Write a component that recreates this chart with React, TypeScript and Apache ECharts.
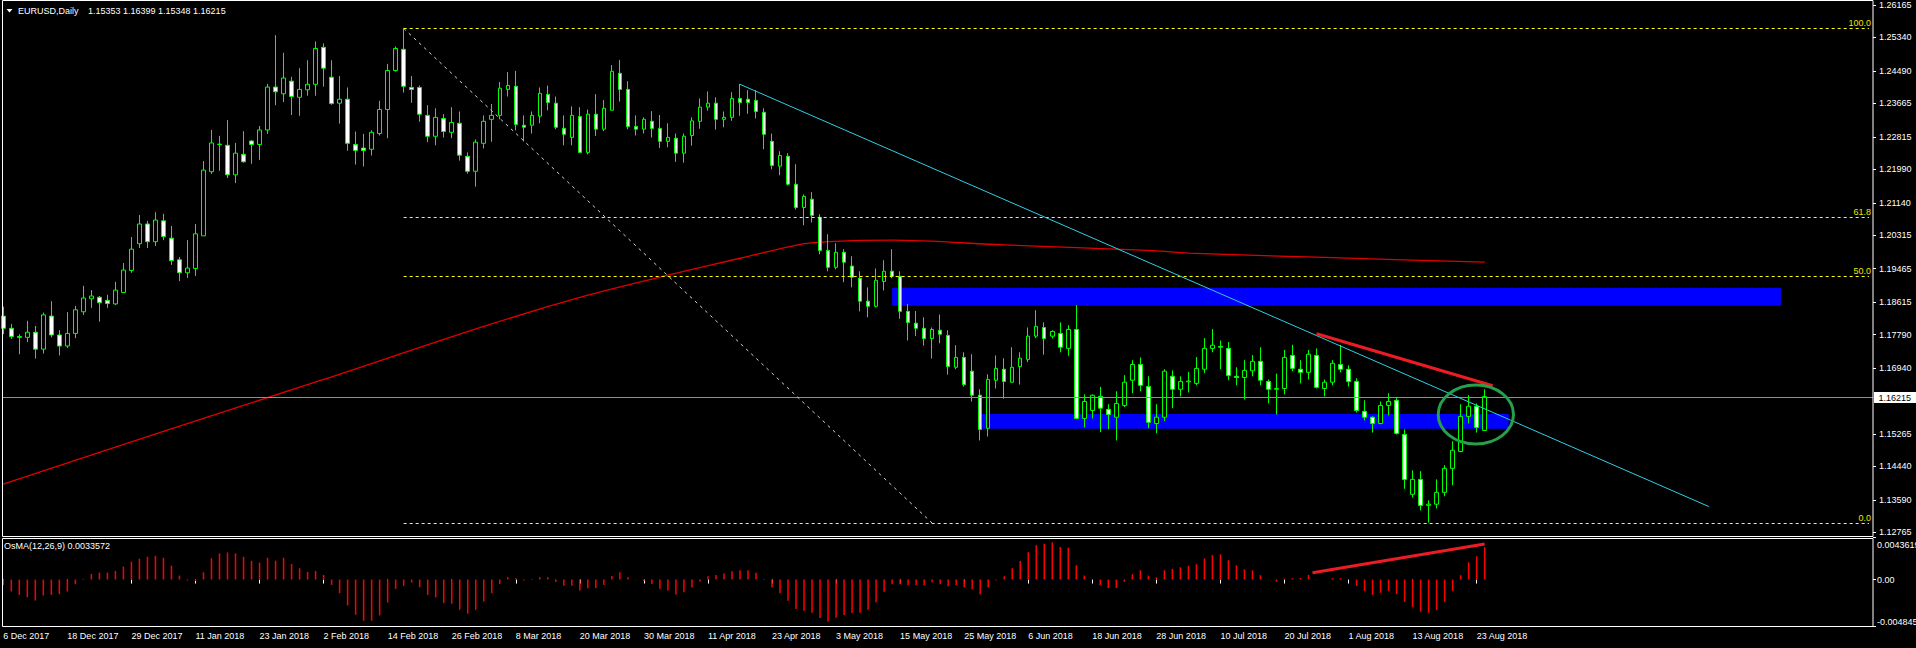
import React, { useEffect, useRef } from 'react';
import * as echarts from 'echarts';

// ---------- DATA ----------
const OPEN = [
  1.1826, 1.1795, 1.1774, 1.1772, 1.1785, 1.1742, 1.1826, 1.1778, 1.1750, 1.1782,
  1.1837, 1.1870, 1.1874, 1.1866, 1.1857, 1.1886, 1.1942, 1.2010, 1.2060, 1.2015,
  1.2068, 1.2024, 1.1969, 1.1936, 1.1947, 1.2030, 1.2193, 1.2262, 1.2260, 1.2185,
  1.2237, 1.2271, 1.2262, 1.2299, 1.2408, 1.2391, 1.2423, 1.2382, 1.2401, 1.2415,
  1.2509, 1.2433, 1.2367, 1.2377, 1.2262, 1.2253, 1.2250, 1.2290, 1.2351, 1.2450,
  1.2504, 1.2407, 1.2407, 1.2336, 1.2283, 1.2328, 1.2293, 1.2316, 1.2232, 1.2194,
  1.2265, 1.2326, 1.2336, 1.2402, 1.2410, 1.2311, 1.2311, 1.2334, 1.2389, 1.2367,
  1.2303, 1.2280, 1.2333, 1.2242, 1.2339, 1.2301, 1.2349, 1.2443, 1.2402, 1.2308,
  1.2301, 1.2321, 1.2303, 1.2270, 1.2278, 1.2240, 1.2285, 1.2321, 1.2357, 1.2367,
  1.2326, 1.2331, 1.2379, 1.2377, 1.2374, 1.2344, 1.2270, 1.2207, 1.2232, 1.2161,
  1.2102, 1.2123, 1.2077, 1.1993, 1.1950, 1.1988, 1.1953, 1.1922, 1.1864, 1.1851,
  1.1914, 1.1940, 1.1927, 1.1838, 1.1808, 1.1795, 1.1769, 1.1790, 1.1777, 1.1696,
  1.1721, 1.1686, 1.1625, 1.1541, 1.1663, 1.1691, 1.1658, 1.1698, 1.1716, 1.1775,
  1.1797, 1.1775, 1.1782, 1.1744, 1.1792, 1.1566, 1.1586, 1.1622, 1.1589, 1.1569,
  1.1599, 1.1663, 1.1703, 1.1647, 1.1553, 1.1569, 1.1673, 1.1640, 1.1659, 1.1655,
  1.1691, 1.1744, 1.1749, 1.1744, 1.1673, 1.1670, 1.1687, 1.1711, 1.1660, 1.1640,
  1.1642, 1.1726, 1.1691, 1.1683, 1.1726, 1.1642, 1.1658, 1.1703, 1.1691, 1.1660,
  1.1584, 1.1569, 1.1553, 1.1599, 1.1612, 1.1525, 1.1373, 1.1411, 1.1345, 1.1348,
  1.1378, 1.1439, 1.1482, 1.1571, 1.1597, 1.15353,
];
const HIGH = [
  1.1850, 1.1806, 1.1780, 1.1814, 1.1801, 1.1835, 1.1864, 1.1790, 1.1836, 1.1852,
  1.1903, 1.1892, 1.1877, 1.1880, 1.1913, 1.1961, 1.2027, 1.2083, 1.2068, 1.2090,
  1.2086, 1.2055, 1.1976, 1.2019, 1.2060, 1.2220, 1.2299, 1.2284, 1.2324, 1.2266,
  1.2296, 1.2273, 1.2309, 1.2416, 1.2540, 1.2495, 1.2434, 1.2456, 1.2476, 1.2524,
  1.2519, 1.2476, 1.2436, 1.2407, 1.2295, 1.2289, 1.2298, 1.2373, 1.2467, 1.2511,
  1.2557, 1.2436, 1.2412, 1.2362, 1.2354, 1.2339, 1.2357, 1.2346, 1.2242, 1.2275,
  1.2336, 1.2365, 1.2421, 1.2446, 1.2449, 1.2336, 1.2346, 1.2407, 1.2412, 1.2384,
  1.2336, 1.2359, 1.2357, 1.2351, 1.2390, 1.2375, 1.2464, 1.2477, 1.2423, 1.2336,
  1.2331, 1.2347, 1.2337, 1.2316, 1.2290, 1.2290, 1.2331, 1.2379, 1.2397, 1.2382,
  1.2346, 1.2395, 1.2416, 1.2400, 1.2400, 1.2354, 1.2290, 1.2245, 1.2240, 1.2212,
  1.2135, 1.2141, 1.2085, 1.2034, 1.2011, 1.1996, 1.1978, 1.1940, 1.1899, 1.1947,
  1.1968, 1.1996, 1.1940, 1.1857, 1.1839, 1.1823, 1.1797, 1.1830, 1.1790, 1.1752,
  1.1734, 1.1729, 1.1640, 1.1678, 1.1726, 1.1719, 1.1747, 1.1734, 1.1797, 1.1841,
  1.1810, 1.1790, 1.1810, 1.1803, 1.1854, 1.1627, 1.1627, 1.1646, 1.1602, 1.1635,
  1.1676, 1.1714, 1.1721, 1.1673, 1.1602, 1.1691, 1.1688, 1.1673, 1.1684, 1.1722,
  1.1770, 1.1793, 1.1764, 1.1760, 1.1696, 1.1714, 1.1727, 1.1747, 1.1665, 1.1680,
  1.1740, 1.1753, 1.1714, 1.1740, 1.1744, 1.1665, 1.1714, 1.1753, 1.1701, 1.1668,
  1.1612, 1.1571, 1.1609, 1.1630, 1.1620, 1.1538, 1.1434, 1.1432, 1.1358, 1.1411,
  1.1447, 1.1508, 1.1602, 1.1625, 1.1604, 1.16399,
];
const LOW = [
  1.1780, 1.1768, 1.1729, 1.1760, 1.1718, 1.1731, 1.1772, 1.1726, 1.1745, 1.1770,
  1.1829, 1.1847, 1.1812, 1.1847, 1.1854, 1.1886, 1.1936, 1.1999, 1.1999, 1.2004,
  1.2019, 1.1956, 1.1915, 1.1923, 1.1928, 1.2030, 1.2187, 1.2195, 1.2177, 1.2164,
  1.2216, 1.2213, 1.2223, 1.2289, 1.2362, 1.2370, 1.2337, 1.2335, 1.2386, 1.2386,
  1.2409, 1.2363, 1.2315, 1.2246, 1.2211, 1.2206, 1.2234, 1.2285, 1.2278, 1.2447,
  1.2394, 1.2368, 1.2320, 1.2268, 1.2260, 1.2280, 1.2278, 1.2221, 1.2188, 1.2155,
  1.2252, 1.2269, 1.2326, 1.2384, 1.2298, 1.2270, 1.2290, 1.2316, 1.2349, 1.2301,
  1.2260, 1.2260, 1.2240, 1.2237, 1.2284, 1.2296, 1.2349, 1.2371, 1.2301, 1.2285,
  1.2290, 1.2280, 1.2253, 1.2255, 1.2218, 1.2216, 1.2259, 1.2302, 1.2348, 1.2300,
  1.2306, 1.2322, 1.2335, 1.2340, 1.2328, 1.2250, 1.2199, 1.2184, 1.2158, 1.2097,
  1.2057, 1.2064, 1.1983, 1.1940, 1.1945, 1.1912, 1.1899, 1.1838, 1.1823, 1.1848,
  1.1891, 1.1922, 1.1819, 1.1764, 1.1775, 1.1751, 1.1718, 1.1757, 1.1677, 1.1691,
  1.1647, 1.1609, 1.1510, 1.1520, 1.1642, 1.1616, 1.1656, 1.1652, 1.1709, 1.1770,
  1.1728, 1.1769, 1.1734, 1.1725, 1.1564, 1.1543, 1.1566, 1.1531, 1.1538, 1.1510,
  1.1595, 1.1630, 1.1635, 1.1541, 1.1528, 1.1559, 1.1592, 1.1622, 1.1632, 1.1650,
  1.1681, 1.1734, 1.1691, 1.1663, 1.1650, 1.1614, 1.1673, 1.1650, 1.1604, 1.1576,
  1.1627, 1.1686, 1.1655, 1.1665, 1.1642, 1.1622, 1.1650, 1.1683, 1.1647, 1.1581,
  1.1561, 1.1530, 1.1551, 1.1574, 1.1525, 1.1387, 1.1365, 1.1332, 1.1301, 1.1337,
  1.1368, 1.1396, 1.1480, 1.1553, 1.1530, 1.15348,
];
const CLOSE = [
  1.1795, 1.1774, 1.1772, 1.1785, 1.1742, 1.1829, 1.1778, 1.1750, 1.1782, 1.1842,
  1.1872, 1.1877, 1.1860, 1.1858, 1.1892, 1.1943, 1.1996, 1.2060, 1.2015, 1.2070,
  1.2028, 1.1967, 1.1936, 1.1948, 1.2035, 1.2197, 1.2266, 1.2263, 1.2185, 1.2240,
  1.2218, 1.2262, 1.2299, 1.2408, 1.2396, 1.2431, 1.2384, 1.2402, 1.2415, 1.2506,
  1.2456, 1.2366, 1.2377, 1.2265, 1.2247, 1.2247, 1.2293, 1.2351, 1.2450, 1.2506,
  1.2410, 1.2402, 1.2339, 1.2283, 1.2331, 1.2295, 1.2318, 1.2235, 1.2194, 1.2268,
  1.2321, 1.2336, 1.2405, 1.2412, 1.2313, 1.2306, 1.2336, 1.2392, 1.2369, 1.2306,
  1.2288, 1.2336, 1.2242, 1.2339, 1.2301, 1.2354, 1.2448, 1.2402, 1.2308, 1.2301,
  1.2326, 1.2303, 1.2270, 1.2280, 1.2240, 1.2283, 1.2322, 1.2357, 1.2367, 1.2326,
  1.2331, 1.2379, 1.2369, 1.2369, 1.2346, 1.2288, 1.2209, 1.2234, 1.2161, 1.2102,
  1.2130, 1.2082, 1.1993, 1.1950, 1.1988, 1.1963, 1.1925, 1.1864, 1.1851, 1.1917,
  1.1940, 1.1927, 1.1838, 1.1810, 1.1795, 1.1769, 1.1792, 1.1780, 1.1698, 1.1721,
  1.1652, 1.1625, 1.1538, 1.1665, 1.1693, 1.1660, 1.1696, 1.1719, 1.1775, 1.1800,
  1.1769, 1.1787, 1.1747, 1.1792, 1.1566, 1.1609, 1.1625, 1.1592, 1.1576, 1.1604,
  1.1658, 1.1703, 1.1650, 1.1556, 1.1569, 1.1686, 1.1640, 1.1660, 1.1661, 1.1693,
  1.1744, 1.1752, 1.1747, 1.1675, 1.1670, 1.1688, 1.1711, 1.1663, 1.1640, 1.1642,
  1.1721, 1.1693, 1.1683, 1.1729, 1.1645, 1.1658, 1.1706, 1.1691, 1.1660, 1.1586,
  1.1569, 1.1553, 1.1599, 1.1609, 1.1528, 1.1411, 1.1411, 1.1345, 1.1348, 1.1378,
  1.1439, 1.1485, 1.1571, 1.1597, 1.1543, 1.16215,
];
const OSMA = [
  -0.00055, -0.00123, -0.00158, -0.00182, -0.00216, -0.00165, -0.00158, -0.00151, -0.00123, -0.00048,
  0.00007, 0.00058, 0.00072, 0.00072, 0.00089, 0.00134, 0.00185, 0.00215, 0.00235, 0.00245,
  0.00225, 0.00144, 0.00041, -0.00010, -0.00015, 0.00075, 0.00220, 0.00270, 0.00280, 0.00270,
  0.00235, 0.00192, 0.00175, 0.00225, 0.00195, 0.00225, 0.00161, 0.00117, 0.00079, 0.00089,
  0.00048, -0.00055, -0.00141, -0.00267, -0.00363, -0.00425, -0.00425, -0.00370, -0.00237, -0.00096,
  -0.00065, -0.00031, -0.00079, -0.00158, -0.00185, -0.00243, -0.00250, -0.00312, -0.00353, -0.00312,
  -0.00226, -0.00141, -0.00045, 0.00024, 0.00014, -0.00010, 0.00007, 0.00024, 0.00024, -0.00024,
  -0.00065, -0.00065, -0.00113, -0.00089, -0.00086, -0.00055, 0.00038, 0.00075, 0.00024, 0.00002,
  -0.00014, -0.00045, -0.00096, -0.00113, -0.00154, -0.00130, -0.00082, -0.00020, 0.00034, 0.00048,
  0.00062, 0.00086, 0.00096, 0.00096, 0.00069, 0.00007, -0.00082, -0.00141, -0.00219, -0.00305,
  -0.00322, -0.00343, -0.00398, -0.00435, -0.00394, -0.00367, -0.00346, -0.00343, -0.00312, -0.00233,
  -0.00127, -0.00048, -0.00048, -0.00058, -0.00058, -0.00058, -0.00027, -0.00048, -0.00069, -0.00058,
  -0.00082, -0.00099, -0.00151, -0.00082, -0.00007, 0.00034, 0.00117, 0.00192, 0.00281, 0.00353,
  0.00370, 0.00384, 0.00336, 0.00329, 0.00147, 0.00041, 0.00002, -0.00058, -0.00089, -0.00086,
  -0.00024, 0.00055, 0.00096, 0.00041, 0.00024, 0.00096, 0.00110, 0.00127, 0.00141, 0.00158,
  0.00219, 0.00254, 0.00261, 0.00199, 0.00147, 0.00106, 0.00096, 0.00045, 0.00002, -0.00024,
  0.00010, 0.00014, 0.00017, 0.00048, 0.00003, 0.00001, 0.00014, 0.00014, 0.00001, -0.00065,
  -0.00117, -0.00158, -0.00137, -0.00117, -0.00151, -0.00230, -0.00281, -0.00333, -0.00343, -0.00315,
  -0.00230, -0.00117, 0.00045, 0.00178, 0.00240, 0.0033572,
];
// moving average (red line), read at these bar indexes
const MA_IDX = [0, 20, 40, 60, 73, 83, 92, 100, 103, 106, 111, 125, 143, 148, 165, 185];
const MA_VAL = [1.1399, 1.1533, 1.1665, 1.1800, 1.1879, 1.1930, 1.1973, 1.2010, 1.2015, 1.2018, 1.2019, 1.2007, 1.1993, 1.1986, 1.1975, 1.1963];

const PRICE_TICKS = [1.26165, 1.2534, 1.2449, 1.23665, 1.22815, 1.2199, 1.2114, 1.20315, 1.19465, 1.18615, 1.1779, 1.1694, 1.15265, 1.1444, 1.1359, 1.12765];
const PRICE_AXIS_MAX = 1.26267;
const PRICE_AXIS_MIN = 1.12672;
const OSMA_MAX = 0.0043619;
const OSMA_MIN = -0.0048454;
const OSMA_TICKS = [OSMA_MAX, 0, OSMA_MIN];
const LAST_PRICE = 1.16215;

const FIB_LEVELS = [100, 61.8, 50, 0];
const FIB_HIGH = 1.2557;
const FIB_LOW = 1.13;
const FIB_START = 50;
const FIB_DIAG_END = 116;
const FIB_END = 233;

const CYAN_LINE = [[92, 1.2415], [213, 1.1342]];
const RED_LINE = [[164, 1.1781], [186, 1.1649]];
const RED_OSMA_LINE = [[163.5, 0.00071], [185, 0.00367]];
const BLUE_ZONES = [
  [111, 222, 1.18981, 1.18524],
  [122, 188, 1.15772, 1.15398],
];
const ELLIPSE = { i: 183.9, price: 1.1576, rBars: 4.7, rPrice: 0.0075 };

const HOLIDAYS = ['2017-12-25', '2018-01-01'];
const MONTHS = ['Jan', 'Feb', 'Mar', 'Apr', 'May', 'Jun', 'Jul', 'Aug', 'Sep', 'Oct', 'Nov', 'Dec'];
const N_CATEGORIES = 234;

const FONT = '"Liberation Sans", Arial, sans-serif';

function tradingDays(startIso: string, count: number): string[] {
  const out: string[] = [];
  const d = new Date(startIso + 'T00:00:00Z');
  while (out.length < count) {
    const dow = d.getUTCDay();
    const iso = d.toISOString().slice(0, 10);
    if (dow !== 0 && dow !== 6 && HOLIDAYS.indexOf(iso) < 0) {
      out.push(`${d.getUTCDate()} ${MONTHS[d.getUTCMonth()]} ${d.getUTCFullYear()}`);
    }
    d.setUTCDate(d.getUTCDate() + 1);
  }
  return out;
}

export default function App() {
  const ref = useRef<HTMLDivElement>(null);

  useEffect(() => {
    document.body.style.margin = '0';
    document.body.style.background = '#000';
    if (!ref.current) return;
    const chart = echarts.init(ref.current, null, { renderer: 'svg' });

    const n = OPEN.length;
    const dates = tradingDays('2017-12-06', n);
    const cats: string[] = [...dates];
    for (let i = n; i < N_CATEGORIES; i++) cats.push('x' + i);

    const candles = OPEN.map((o, i) => [o, CLOSE[i], LOW[i], HIGH[i]]);
    const ma: (number | null)[] = new Array(n).fill(null);
    MA_IDX.forEach((idx, k) => { ma[idx] = MA_VAL[k]; });

    const showLabel = (idx: number) => idx % 8 === 0 && idx < n;

    chart.setOption({
      animation: false,
      backgroundColor: '#000000',
      textStyle: { fontFamily: FONT },
      grid: [
        { left: -0.7, right: 43, top: 1, height: 535, containLabel: false, outerBoundsMode: 'none' },
        { left: -0.7, right: 43, top: 537.3, height: 89.2, containLabel: false, outerBoundsMode: 'none' },
      ],
      xAxis: [
        { type: 'category', gridIndex: 0, data: cats, axisLine: { show: false }, axisTick: { show: false }, axisLabel: { show: false }, splitLine: { show: false } },
        {
          type: 'category', gridIndex: 1, data: cats,
          axisLine: { show: false },
          axisTick: { show: true, alignWithLabel: true, interval: (idx: number) => showLabel(idx), length: 4, lineStyle: { color: '#ffffff' } },
          axisLabel: { interval: (idx: number) => showLabel(idx), color: '#ffffff', fontSize: 9, fontFamily: FONT, align: 'left', margin: 5 },
          splitLine: { show: false },
        },
      ],
      yAxis: [
        {
          type: 'value', gridIndex: 0, position: 'right', min: PRICE_AXIS_MIN, max: PRICE_AXIS_MAX,
          axisLine: { show: false }, splitLine: { show: false },
          axisTick: { show: true, customValues: PRICE_TICKS, length: 3, lineStyle: { color: '#ffffff' } },
          axisLabel: { customValues: PRICE_TICKS, formatter: (v: number) => v.toFixed(5), color: '#ffffff', fontSize: 9, fontFamily: FONT, margin: 6 },
        },
        {
          type: 'value', gridIndex: 1, position: 'right', min: OSMA_MIN, max: OSMA_MAX,
          axisLine: { show: false }, splitLine: { show: false },
          axisTick: { show: true, customValues: OSMA_TICKS, length: 3, lineStyle: { color: '#ffffff' } },
          axisLabel: {
            customValues: OSMA_TICKS,
            formatter: (v: number) => (v === 0 ? '0.00' : v < 0 ? `{lo|${v.toFixed(7)}}` : `{hi|${v.toFixed(7)}}`),
            rich: {
              lo: { padding: [0, 0, 10, 0], color: '#ffffff', fontSize: 9, fontFamily: FONT },
              hi: { padding: [15, 0, 0, 0], color: '#ffffff', fontSize: 9, fontFamily: FONT },
            },
            color: '#ffffff', fontSize: 9, fontFamily: FONT, margin: 4,
          },
        },
      ],
      series: [
        {
          type: 'line', xAxisIndex: 0, yAxisIndex: 0, data: ma, connectNulls: true, smooth: 0.3,
          symbol: 'none', showSymbol: false, silent: true, z: 1,
          lineStyle: { color: '#e00000', width: 1.3 },
          markArea: {
            silent: true, label: { show: false },
            itemStyle: { color: '#0000ff', opacity: 1 },
            data: BLUE_ZONES.map(([a, b, top, bot]) => [{ coord: [a, top] }, { coord: [b, bot] }]),
          },
        },
        {
          type: 'candlestick', xAxisIndex: 0, yAxisIndex: 0, data: candles, barWidth: 4, z: 3, silent: true,
          itemStyle: { color: '#000000', color0: '#ffffff', borderColor: '#00ff00', borderColor0: '#00ff00', borderWidth: 1 },
        },
        {
          type: 'bar', xAxisIndex: 1, yAxisIndex: 1, data: OSMA, barWidth: 1.5, silent: true,
          itemStyle: { color: '#ff0000' },
        },
      ],
    });

    const x0 = chart.convertToPixel({ xAxisIndex: 0 }, 0) as number;
    const bw = (chart.convertToPixel({ xAxisIndex: 0 }, 1) as number) - x0;
    const X = (i: number) => x0 + i * bw;
    const Y = (v: number) => chart.convertToPixel({ yAxisIndex: 0 }, v) as number;
    const YO = (v: number) => chart.convertToPixel({ yAxisIndex: 1 }, v) as number;

    const elements: any[] = [];
    // frames
    elements.push({ type: 'rect', z: 20, silent: true, shape: { x: 2.5, y: 0.5, width: 1870.5, height: 536 }, style: { fill: 'none', stroke: '#ffffff', lineWidth: 1 } });
    elements.push({ type: 'rect', z: 20, silent: true, shape: { x: 2.5, y: 538.5, width: 1870.5, height: 88 }, style: { fill: 'none', stroke: '#ffffff', lineWidth: 1 } });

    // last price line
    const yl = Math.round(Y(LAST_PRICE)) + 0.5;
    elements.push({ type: 'line', z: 4, silent: true, shape: { x1: 2, y1: yl, x2: 1873, y2: yl }, style: { stroke: '#8293a4', lineWidth: 1 } });
    elements.push({ type: 'rect', z: 21, silent: true, shape: { x: 1874, y: yl - 5.5, width: 44, height: 11 }, style: { fill: '#ffffff' } });
    elements.push({ type: 'text', z: 22, silent: true, x: 1878.5, y: yl, style: { text: LAST_PRICE.toFixed(5), fill: '#000000', fontSize: 9, fontFamily: FONT, align: 'left', verticalAlign: 'middle' } });

    // fibonacci
    FIB_LEVELS.forEach((lvl) => {
      const p = FIB_LOW + ((FIB_HIGH - FIB_LOW) * lvl) / 100;
      const y = Math.round(Y(p)) + 0.5;
      elements.push({ type: 'line', z: 10, silent: true, shape: { x1: X(FIB_START), y1: y, x2: X(FIB_END), y2: y }, style: { stroke: '#ffff00', lineWidth: 1, lineDash: [3, 3] } });
      elements.push({ type: 'text', z: 10, silent: true, x: X(FIB_END) + 2, y: y - 6, style: { text: lvl.toFixed(1), fill: '#e6e600', fontSize: 9, fontFamily: FONT, align: 'right', verticalAlign: 'middle' } });
    });
    elements.push({ type: 'line', z: 10, silent: true, shape: { x1: X(FIB_START), y1: Y(FIB_HIGH), x2: X(FIB_DIAG_END), y2: Y(FIB_LOW) }, style: { stroke: '#d4d4d4', lineWidth: 1, lineDash: [3, 4] } });

    // trend lines
    elements.push({ type: 'line', z: 10, silent: true, shape: { x1: X(CYAN_LINE[0][0]), y1: Y(CYAN_LINE[0][1]), x2: X(CYAN_LINE[1][0]), y2: Y(CYAN_LINE[1][1]) }, style: { stroke: '#2ed0e4', lineWidth: 1 } });
    elements.push({ type: 'line', z: 11, silent: true, shape: { x1: X(RED_LINE[0][0]), y1: Y(RED_LINE[0][1]), x2: X(RED_LINE[1][0]), y2: Y(RED_LINE[1][1]) }, style: { stroke: '#ec1c24', lineWidth: 3 } });
    elements.push({ type: 'line', z: 11, silent: true, shape: { x1: X(RED_OSMA_LINE[0][0]), y1: YO(RED_OSMA_LINE[0][1]), x2: X(RED_OSMA_LINE[1][0]), y2: YO(RED_OSMA_LINE[1][1]) }, style: { stroke: '#ec1c24', lineWidth: 3 } });

    // ellipse
    const cy = Y(ELLIPSE.price);
    elements.push({
      type: 'ellipse', z: 12, silent: true,
      shape: { cx: X(ELLIPSE.i), cy, rx: ELLIPSE.rBars * bw, ry: Math.abs(Y(ELLIPSE.price + ELLIPSE.rPrice) - cy) },
      style: { fill: 'none', stroke: '#26a04a', lineWidth: 3 },
    });

    // header
    elements.push({ type: 'polygon', z: 20, silent: true, shape: { points: [[6.5, 9], [12.5, 9], [9.5, 12.5]] }, style: { fill: '#ffffff' } });
    elements.push({ type: 'text', z: 20, silent: true, x: 18, y: 11, style: { text: 'EURUSD,Daily', fill: '#ffffff', fontSize: 9, fontFamily: FONT, align: 'left', verticalAlign: 'middle' } });
    elements.push({ type: 'text', z: 20, silent: true, x: 88, y: 11, style: { text: `${OPEN[n - 1].toFixed(5)} ${HIGH[n - 1].toFixed(5)} ${LOW[n - 1].toFixed(5)} ${CLOSE[n - 1].toFixed(5)}`, fill: '#ffffff', fontSize: 9, fontFamily: FONT, align: 'left', verticalAlign: 'middle' } });
    elements.push({ type: 'text', z: 20, silent: true, x: 4, y: 546, style: { text: `OsMA(12,26,9) ${OSMA[n - 1].toFixed(7)}`, fill: '#ffffff', fontSize: 9, fontFamily: FONT, align: 'left', verticalAlign: 'middle' } });

    chart.setOption({ graphic: { elements } });

    return () => chart.dispose();
  }, []);

  return <div ref={ref} style={{ width: 1916, height: 648, background: '#000' }} />;
}
